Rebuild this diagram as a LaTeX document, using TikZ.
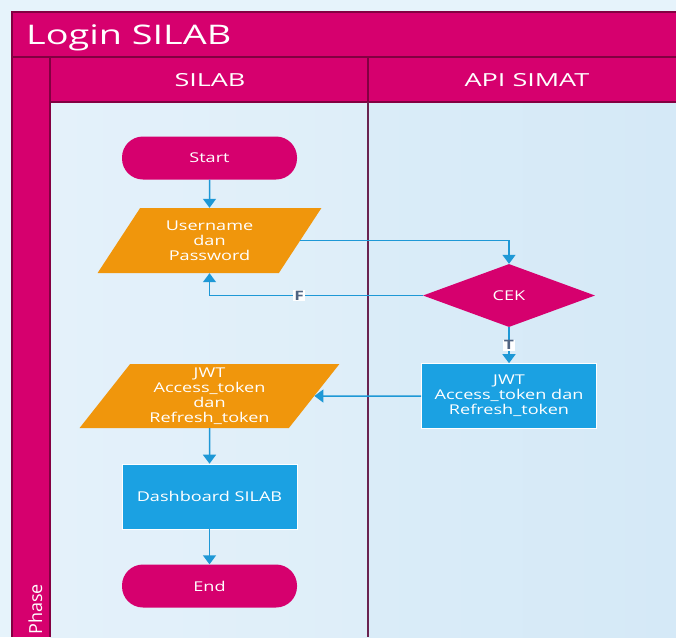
\documentclass[tikz,border=0pt]{standalone}
\usepackage{fontspec}
\setmainfont{Open Sans}[FakeStretch=1.34]
\newfontfamily\titlefont{Open Sans}[FakeStretch=1.4]
\newfontfamily\headfont{Open Sans}[FakeStretch=1.5]
\newfontfamily\phasefont{Open Sans}
\usetikzlibrary{shapes.geometric,arrows.meta}

\definecolor{pinkc}{RGB}{214,0,110}
\definecolor{edgec}{RGB}{130,0,65}
\definecolor{divc}{RGB}{105,35,80}
\definecolor{orangec}{RGB}{240,150,12}
\definecolor{bluec}{RGB}{27,161,226}
\definecolor{arrowc}{RGB}{30,152,214}
\definecolor{outerc}{RGB}{230,243,251}
\definecolor{laneAl}{RGB}{228,241,250}
\definecolor{laneAr}{RGB}{222,238,249}
\definecolor{laneBl}{RGB}{218,236,248}
\definecolor{laneBr}{RGB}{213,233,247}
\definecolor{lblc}{RGB}{80,100,130}

\tikzset{
  x=1pt, y=-1pt,
  nodetext/.style={text=white, font=\fontsize{13.5}{15}\selectfont, align=center, inner sep=0pt},
  term/.style={nodetext, fill=pinkc, rectangle, rounded corners=21pt,
    minimum width=175pt, minimum height=43pt},
  io/.style={nodetext, fill=orangec, trapezium, trapezium stretches=true,
    trapezium left angle=56, trapezium right angle=124},
  proc/.style={nodetext, fill=bluec, draw=white, line width=0.6pt, rectangle,
    minimum width=175pt, minimum height=65pt},
  decision/.style={nodetext, fill=pinkc, diamond, minimum width=172pt, minimum height=63pt},
  flow/.style={draw=arrowc, line width=1.5pt, -{Triangle[width=13pt,length=9pt]}},
  lbl/.style={fill=white, text=lblc, inner sep=1pt, font=\fontsize{13}{13}\selectfont\bfseries},
  hdr/.style={text=white, font=\headfont\fontsize{18}{20}\selectfont, inner sep=0pt},
  border/.style={draw=edgec, line width=1.2pt}
}

\begin{document}
\begin{tikzpicture}
\useasboundingbox (0,0) rectangle (676,637);
\fill[outerc] (0,0) rectangle (676,637);

% swimlane bodies
\shade[left color=laneAl, right color=laneAr] (50,102) rectangle (368,637);
\shade[left color=laneBl, right color=laneBr] (368,102) rectangle (676,637);

% pool title bar, lane headers and phase column
\fill[pinkc] (12,12) rectangle (676,102);
\fill[pinkc] (12,102) rectangle (50,637);
\draw[border] (676,12) -- (12,12) -- (12,637);
\draw[border] (12,57) -- (676,57);
\draw[border] (50,102) -- (676,102);
\draw[border] (50,57) -- (50,637);
\draw[border] (368,57) -- (368,102);
\draw[draw=divc, line width=2pt] (368,102) -- (368,637);

\node[text=white, font=\titlefont\fontsize{27}{30}\selectfont, anchor=base west, inner sep=0pt]
  (title) at (26,44) {Login SILAB};
\node[hdr, anchor=base] (hsilab) at (210,86) {SILAB};
\node[hdr, anchor=base] (hapi) at (527,86) {API SIMAT};
\node[text=white, font=\phasefont\fontsize{18}{20}\selectfont, rotate=90, anchor=base west, inner sep=0pt]
  (phase) at (42,635) {Phase};

% flowchart nodes
\node[term] (start) at (209.5,158) {Start};
\node[io, minimum width=224pt, minimum height=65pt] (user) at (209.5,240.5) {Username\\dan\\Password};
\node[decision] (cek) at (509,295.5) {CEK};
\node[proc] (jwtR) at (509,396) {JWT\\Access\_token dan\\Refresh\_token};
\node[io, minimum width=260pt, minimum height=64pt] (jwtL) at (209.5,396) {JWT\\Access\_token\\dan\\Refresh\_token};
\node[proc] (dash) at (209.5,496.5) {Dashboard SILAB};
\node[term] (end) at (209.5,586) {End};

% connectors
\draw[flow] (start) -- (user);
\draw[flow] (user.east) -| (cek.north);
\draw[flow] (cek.west) -| node[lbl, pos=0.29] {F} (user);
\draw[flow] (cek) -- node[lbl] {T} (jwtR);
\draw[flow] (jwtR) -- (jwtL);
\draw[flow] (jwtL) -- (dash);
\draw[flow] (dash) -- (end);
\end{tikzpicture}
\end{document}
